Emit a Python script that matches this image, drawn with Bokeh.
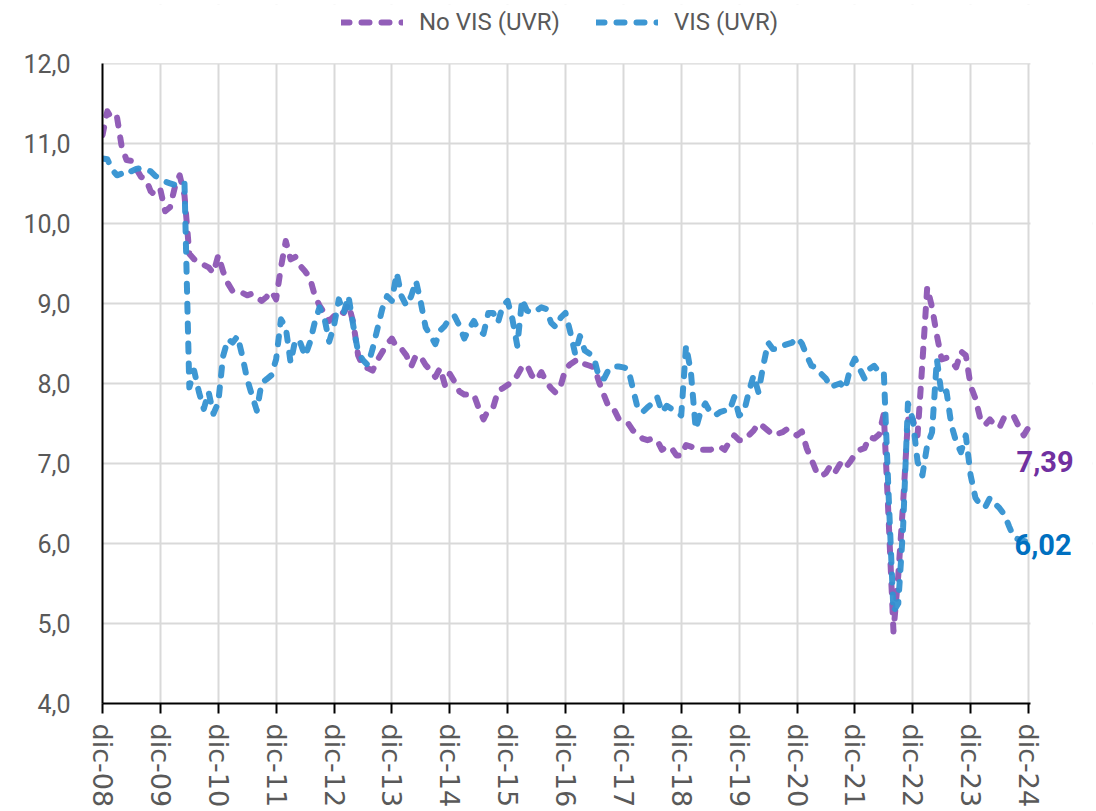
from bokeh.plotting import figure
from bokeh.models import (Range1d, FixedTicker, CustomJSTickFormatter, Legend,
                          LegendItem, Label, BoxAnnotation)
from bokeh.embed import file_html
from bokeh.resources import INLINE

# Monthly values, dic-08 .. dic-24
no_vis = [
    11.10, 11.40, 11.30, 11.33, 10.95, 10.79, 10.78, 10.68, 10.58, 10.55, 10.40, 10.35,
    10.42, 10.15, 10.20, 10.45, 10.60, 10.35, 9.62, 9.55, 9.52, 9.48, 9.45, 9.38,
    9.60, 9.40, 9.25, 9.15, 9.13, 9.13, 9.10, 9.12, 9.08, 9.03, 9.08, 9.15,
    9.05, 9.45, 9.78, 9.55, 9.58, 9.47, 9.40, 9.32, 9.10, 8.97, 8.88, 8.78,
    8.84, 8.91, 8.88, 8.99, 8.76, 8.35, 8.21, 8.19, 8.16, 8.29, 8.39, 8.49,
    8.56, 8.45, 8.43, 8.35, 8.21, 8.35, 8.33, 8.23, 8.16, 8.08, 8.19, 7.98,
    8.12, 8.02, 7.90, 7.86, 7.86, 7.86, 7.69, 7.55, 7.67, 7.70, 7.90, 7.94,
    7.98, 8.02, 8.10, 8.21, 8.23, 8.10, 8.04, 8.14, 8.02, 7.94, 7.88, 7.97,
    8.18, 8.24, 8.28, 8.30, 8.24, 8.22, 8.20, 8.01, 7.85, 7.70, 7.68, 7.56,
    7.52, 7.50, 7.41, 7.37, 7.31, 7.29, 7.31, 7.29, 7.17, 7.21, 7.19, 7.10,
    7.10, 7.23, 7.21, 7.19, 7.17, 7.17, 7.17, 7.19, 7.21, 7.17, 7.27, 7.35,
    7.29, 7.29, 7.35, 7.41, 7.50, 7.46, 7.41, 7.35, 7.37, 7.39, 7.43, 7.39,
    7.35, 7.40, 7.19, 7.05, 6.90, 6.84, 6.88, 6.98, 6.90, 7.00, 6.94, 7.02,
    7.11, 7.17, 7.19, 7.33, 7.31, 7.36, 7.62, 6.30, 4.90, 5.60, 6.50, 7.55,
    7.55, 7.35, 8.26, 9.20, 8.95, 8.60, 8.30, 8.32, 8.28, 8.20, 8.40, 8.35,
    7.97, 7.81, 7.56, 7.48, 7.55, 7.48, 7.45, 7.58, 7.60, 7.58, 7.46, 7.35,
    7.45,
]

vis = [
    10.81, 10.80, 10.67, 10.60, 10.62, 10.67, 10.65, 10.68, 10.69, 10.67, 10.65, 10.59,
    10.56, 10.52, 10.50, 10.48, 10.52, 10.50, 7.95, 8.16, 7.89, 7.68, 7.89, 7.62,
    7.76, 8.34, 8.55, 8.51, 8.59, 8.34, 8.05, 7.85, 7.66, 8.01, 8.05, 8.10,
    8.30, 8.80, 8.70, 8.26, 8.55, 8.51, 8.34, 8.51, 8.76, 8.95, 8.82, 8.52,
    8.72, 9.05, 8.88, 9.09, 8.72, 8.39, 8.29, 8.23, 8.43, 8.68, 8.93, 9.09,
    9.03, 9.38, 9.09, 8.97, 9.09, 9.28, 9.01, 8.70, 8.60, 8.49, 8.66, 8.72,
    8.82, 8.84, 8.72, 8.56, 8.68, 8.78, 8.66, 8.62, 8.88, 8.88, 8.76, 8.97,
    9.03, 8.80, 8.47, 9.05, 8.91, 8.88, 8.91, 8.95, 8.93, 8.76, 8.70, 8.82,
    8.88, 8.64, 8.37, 8.59, 8.41, 8.37, 8.30, 8.06, 8.06, 8.18, 8.21, 8.21,
    8.20, 8.18, 7.93, 7.68, 7.64, 7.70, 7.75, 7.83, 7.64, 7.72, 7.68, 7.64,
    7.60, 8.47, 8.14, 7.43, 7.64, 7.75, 7.64, 7.60, 7.64, 7.66, 7.66, 7.83,
    7.60, 7.64, 7.89, 8.10, 7.89, 8.22, 8.51, 8.43, 8.43, 8.47, 8.49, 8.51,
    8.57, 8.50, 8.35, 8.22, 8.20, 8.12, 8.06, 7.95, 7.98, 8.00, 7.93, 8.18,
    8.31, 8.18, 8.06, 8.18, 8.22, 8.14, 8.14, 6.60, 5.15, 5.25, 6.20, 7.75,
    7.55, 7.02, 6.85, 7.23, 7.39, 8.30, 7.85, 7.90, 7.48, 7.27, 7.14, 7.35,
    6.85, 6.57, 6.48, 6.45, 6.57, 6.50, 6.44, 6.36, 6.21, 6.07, 6.05, 6.03,
    6.02,
]

tick_labels = ["dic-08", "dic-09", "dic-10", "dic-11", "dic-12", "dic-13", "dic-14",
               "dic-15", "dic-16", "dic-17", "dic-18", "dic-19", "dic-20", "dic-21",
               "dic-22", "dic-23", "dic-24"]
y_ticks = [4, 5, 6, 7, 8, 9, 10, 11, 12]
series_names = ["No VIS (UVR)", "VIS (UVR)"]
end_labels = ["7,39", "6,02"]

months = list(range(len(no_vis)))
tick_pos = [i * 12 for i in range(len(tick_labels))]

PURPLE = "#8C55B4"
BLUE = "#3391D1"
GREY = "#595959"

# ---- layout (pixels) ----
W, H = 1096, 810
B_LEFT, B_RIGHT, B_TOP, B_BOTTOM = 102, 4, 4, 104
PX_PER_MONTH = 926 / 192.0       # dic-08 .. dic-24 span
PX_PER_UNIT = 643 / 8.0          # 4,0 .. 12,0 span
frame_w = W - B_LEFT - B_RIGHT
frame_h = H - B_TOP - B_BOTTOM
x_end = frame_w / PX_PER_MONTH
y_end = y_ticks[0] + frame_h / PX_PER_UNIT
x_plot_end = months[-1] + 0.4    # right edge of the drawn plot area

p = figure(width=W, height=H,
           x_range=Range1d(0, x_end), y_range=Range1d(y_ticks[0], y_end),
           output_backend="svg", toolbar_location=None,
           min_border_left=B_LEFT, min_border_right=B_RIGHT,
           min_border_top=B_TOP, min_border_bottom=B_BOTTOM)

p.outline_line_color = None
p.background_fill_color = "white"
p.border_fill_color = "white"

# grid
p.grid.grid_line_color = "#D9D9D9"
p.grid.grid_line_width = 2
p.xgrid.ticker = FixedTicker(ticks=tick_pos)
p.ygrid.ticker = FixedTicker(ticks=y_ticks)

# masks so that grid stays inside the 4..12 / dic-08..dic-24 area
p.add_layout(BoxAnnotation(left=x_plot_end, fill_color="white", fill_alpha=1,
                           line_color=None, level="underlay"))
p.add_layout(BoxAnnotation(bottom=y_ticks[-1], fill_color="white", fill_alpha=1,
                           line_color=None, level="underlay"))

r1 = p.line(months, no_vis, line_color=PURPLE, line_width=6, line_dash="8 12",
            line_cap="round", line_join="round", line_alpha=0.95)
r2 = p.line(months, vis, line_color=BLUE, line_width=6, line_dash="8 12",
            line_cap="round", line_join="round", line_alpha=0.95)

# axes
p.xaxis.ticker = FixedTicker(ticks=tick_pos)
p.xaxis.bounds = (0, x_plot_end)
p.xaxis.major_label_overrides = {t: l for t, l in zip(tick_pos, tick_labels)}
p.xaxis.major_label_orientation = "vertical"
p.xaxis.major_label_text_font = "DejaVu Sans"
p.xaxis.major_label_text_font_size = "27px"
p.xaxis.major_label_text_color = GREY
p.xaxis.axis_line_color = "black"
p.xaxis.axis_line_width = 2
p.xaxis.major_tick_line_color = "black"
p.xaxis.major_tick_line_width = 2
p.xaxis.major_tick_out = 10
p.xaxis.major_tick_in = 0
p.xaxis.minor_tick_line_color = None
p.xaxis.major_label_standoff = 10

p.yaxis.ticker = FixedTicker(ticks=y_ticks)
p.yaxis.bounds = (y_ticks[0], y_ticks[-1])
p.yaxis.formatter = CustomJSTickFormatter(code="return tick.toFixed(1).replace('.', ',');")
p.yaxis.major_label_text_font = "Roboto"
p.yaxis.major_label_text_font_size = "25px"
p.yaxis.major_label_text_color = GREY
p.yaxis.axis_line_color = "black"
p.yaxis.axis_line_width = 2
p.yaxis.major_tick_line_color = None
p.yaxis.minor_tick_line_color = None
p.yaxis.major_tick_out = 0
p.yaxis.major_label_standoff = 32

# legend (inside the frame, above the 12,0 line)
legend = Legend(items=[LegendItem(label=series_names[0], renderers=[r1]),
                       LegendItem(label=series_names[1], renderers=[r2])],
                orientation="horizontal", location=(239, frame_h - 39 + B_TOP),
                glyph_width=62, glyph_height=24, label_height=24,
                label_standoff=16, spacing=36, padding=0, margin=0,
                label_text_font="Roboto", label_text_font_size="24px",
                label_text_color=GREY, border_line_color=None,
                background_fill_alpha=0)
p.add_layout(legend)

# end-of-series labels
p.add_layout(Label(x=months[-1], y=7.03, text=end_labels[0], x_offset=-12,
                   text_color="#7030A0", text_font="Roboto", text_font_style="bold",
                   text_font_size="29px", text_baseline="middle", text_align="left"))
p.add_layout(Label(x=months[-1], y=5.99, text=end_labels[1], x_offset=-14,
                   text_color="#0070C0", text_font="Roboto", text_font_style="bold",
                   text_font_size="29px", text_baseline="middle", text_align="left"))

open("out.html", "w").write(file_html(p, INLINE))
